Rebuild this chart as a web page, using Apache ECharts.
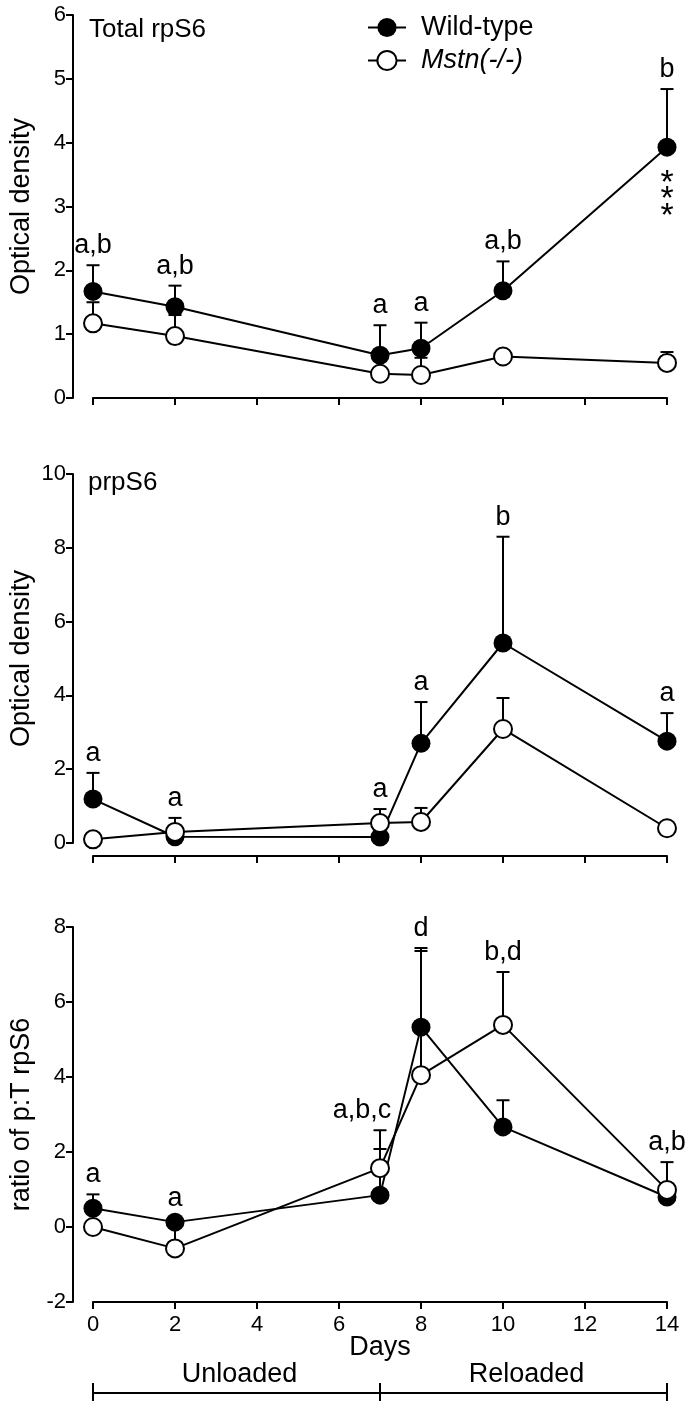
<!DOCTYPE html>
<html><head><meta charset="utf-8">
<script src="https://cdn.jsdelivr.net/npm/echarts@6/dist/echarts.min.js"></script>
<style>html,body{margin:0;padding:0;background:#fff}#c{width:694px;height:1408px}</style>
</head><body><div id="c"></div>
<script>
// ---- data ----
const days = [0, 2, 7, 8, 10, 14];
const xTicks = [0, 2, 4, 6, 8, 10, 12, 14];

const totalWT = [1.67, 1.43, 0.67, 0.78, 1.68, 3.93];
const totalWTErr = [0.41, 0.33, 0.47, 0.40, 0.46, 0.91];
const totalKO = [1.17, 0.97, 0.38, 0.36, 0.65, 0.55];
const totalKOErr = [0.33, 0.33, 0.20, 0.27, 0.08, 0.17];
const totalLabels = ['a,b', 'a,b', 'a', 'a', 'a,b', 'b'];

const phosWT = [1.19, 0.17, 0.16, 2.70, 5.42, 2.76];
const phosWTErr = [0.71, 0.10, 0.10, 1.12, 2.88, 0.76];
const phosKO = [0.10, 0.30, 0.54, 0.57, 3.09, 0.40];
const phosKOErr = [0.05, 0.38, 0.38, 0.38, 0.84, 0.14];
const phosLabels = ['a', 'a', 'a', 'a', 'b', 'a'];

const ratioWT = [0.50, 0.13, 0.85, 5.33, 2.67, 0.80];
const ratioWTErr = [0.37, 0.10, 1.23, 2.11, 0.71, 0.10];
const ratioKO = [0.00, -0.57, 1.57, 4.05, 5.39, 0.99];
const ratioKOErr = [0.10, 0.65, 1.01, 3.31, 1.41, 0.74];
const ratioLabels = ['a', 'a', 'a,b,c', 'd', 'b,d', 'a,b'];

const periods = [
  { name: 'Unloaded', start: 0, end: 7 },
  { name: 'Reloaded', start: 7, end: 14 }
];

const FONT = '"Liberation Sans", Arial, sans-serif';
const seriesWT = 'Wild-type', seriesKO = 'Mstn(-/-)';

// ---- layout ----
const grids = [
  { left: 93, width: 574, top: 15, height: 383, outerBoundsMode: 'none', containLabel: false },
  { left: 93, width: 574, top: 474, height: 369, outerBoundsMode: 'none', containLabel: false },
  { left: 93, width: 574, top: 927, height: 375, outerBoundsMode: 'none', containLabel: false }
];
const yRanges = [
  { min: 0, max: 6, interval: 1, name: 'Optical density' },
  { min: 0, max: 10, interval: 2, name: 'Optical density' },
  { min: -2, max: 8, interval: 2, name: 'ratio of p:T rpS6' }
];
const xOffsets = [0, 13, 0];
const labelDx = [[0, 0, 0, 0, 0, 0], [0, 0, 0, 0, 0, 0], [0, 0, -18, 0, 0, 0]];

const panels = [
  { wt: totalWT, wtE: totalWTErr, ko: totalKO, koE: totalKOErr, lab: totalLabels },
  { wt: phosWT, wtE: phosWTErr, ko: phosKO, koE: phosKOErr, lab: phosLabels },
  { wt: ratioWT, wtE: ratioWTErr, ko: ratioKO, koE: ratioKOErr, lab: ratioLabels }
];

function errRender(params, api) {
  const x = api.value(0), m = api.value(1), e = api.value(2);
  const p0 = api.coord([x, m]), p1 = api.coord([x, m + e]);
  const st = { stroke: '#000', lineWidth: 2 };
  return { type: 'group', children: [
    { type: 'line', shape: { x1: p0[0], y1: p0[1], x2: p1[0], y2: p1[1] }, style: st },
    { type: 'line', shape: { x1: p1[0] - 6.5, y1: p1[1], x2: p1[0] + 6.5, y2: p1[1] }, style: st }
  ]};
}

const xAxes = [], yAxes = [], series = [];
panels.forEach((p, i) => {
  xAxes.push({
    gridIndex: i, type: 'value', min: 0, max: 14, interval: 2, offset: xOffsets[i],
    axisLine: { show: true, onZero: false, lineStyle: { color: '#000', width: 2 } },
    axisTick: { show: true, length: 7, lineStyle: { color: '#000', width: 2 } },
    axisLabel: { show: i === 2, color: '#000', fontSize: 22, fontFamily: FONT, margin: 12 },
    splitLine: { show: false },
    name: i === 2 ? 'Days' : '', nameLocation: 'middle', nameGap: 32, nameMoveOverlap: false,
    nameTextStyle: { color: '#000', fontSize: 27, fontFamily: FONT }
  });
  yAxes.push({
    gridIndex: i, type: 'value', min: yRanges[i].min, max: yRanges[i].max, interval: yRanges[i].interval,
    offset: 20,
    axisLine: { show: true, onZero: false, lineStyle: { color: '#000', width: 2 } },
    axisTick: { show: true, length: 7, lineStyle: { color: '#000', width: 2 } },
    axisLabel: { color: '#000', fontSize: 22, fontFamily: FONT, margin: 7 },
    splitLine: { show: false },
    name: yRanges[i].name, nameLocation: 'middle', nameGap: 38, nameMoveOverlap: false,
    nameTextStyle: { color: '#000', fontSize: 27, fontFamily: FONT }
  });
  // error bars
  series.push({
    type: 'custom', xAxisIndex: i, yAxisIndex: i, z: 1, silent: true,
    renderItem: errRender, data: days.map((d, k) => [d, p.wt[k], p.wtE[k]])
  });
  series.push({
    type: 'custom', xAxisIndex: i, yAxisIndex: i, z: 1, silent: true,
    renderItem: errRender, data: days.map((d, k) => [d, p.ko[k], p.koE[k]])
  });
  series.push({
    name: seriesWT, type: 'line', xAxisIndex: i, yAxisIndex: i, z: 3, clip: false,
    data: days.map((d, k) => [d, p.wt[k]]),
    symbol: 'circle', symbolSize: 19,
    lineStyle: { color: '#000', width: 2 },
    itemStyle: { color: '#000', borderColor: '#000', borderWidth: 0 }
  });
  series.push({
    name: seriesKO, type: 'line', xAxisIndex: i, yAxisIndex: i, z: 4, clip: false,
    data: days.map((d, k) => [d, p.ko[k]]),
    symbol: 'circle', symbolSize: 18,
    lineStyle: { color: '#000', width: 2 },
    itemStyle: { color: '#fff', borderColor: '#000', borderWidth: 2 }
  });
  // significance letters
  series.push({
    type: 'custom', xAxisIndex: i, yAxisIndex: i, z: 5, silent: true,
    data: days.map((d, k) => [d, Math.max(p.wt[k] + p.wtE[k], p.ko[k] + p.koE[k])]),
    renderItem: function (params, api) {
      const pt = api.coord([api.value(0), api.value(1)]);
      const label = p.lab[params.dataIndex];
      return { type: 'text', x: pt[0] + labelDx[i][params.dataIndex], y: pt[1] - 6,
        style: { text: label, fill: '#000', font: '27px ' + FONT, textAlign: 'center', textVerticalAlign: 'bottom' } };
    }
  });
});

// *** under WT day 14 of total panel
series.push({
  type: 'custom', xAxisIndex: 0, yAxisIndex: 0, z: 5, silent: true,
  data: [[days[5], totalWT[5]]],
  renderItem: function (params, api) {
    const pt = api.coord([api.value(0), api.value(1)]);
    return { type: 'text', x: pt[0], y: pt[1] + 28,
      style: { text: '*\n*\n*', fill: '#000', font: '34px ' + FONT, lineHeight: 16.5, textAlign: 'center', textVerticalAlign: 'top' } };
  }
});

// Unloaded / Reloaded bracket under the bottom panel
series.push({
  type: 'custom', xAxisIndex: 2, yAxisIndex: 2, z: 5, silent: true,
  data: periods.map(p => [p.start, p.end]),
  renderItem: function (params, api) {
    const a = api.coord([api.value(0), yRanges[2].min]);
    const b = api.coord([api.value(1), yRanges[2].min]);
    const y = a[1] + 91;
    const st = { stroke: '#000', lineWidth: 2 };
    return { type: 'group', children: [
      { type: 'line', shape: { x1: a[0], y1: y, x2: b[0], y2: y }, style: st },
      { type: 'line', shape: { x1: a[0], y1: y - 10, x2: a[0], y2: y + 8 }, style: st },
      { type: 'line', shape: { x1: b[0], y1: y - 10, x2: b[0], y2: y + 8 }, style: st },
      { type: 'text', x: (a[0] + b[0]) / 2 + 3, y: y - 5,
        style: { text: periods[params.dataIndex].name, fill: '#000', font: '27px ' + FONT, textAlign: 'center', textVerticalAlign: 'bottom' } }
    ]};
  }
});

const option = {
  animation: false,
  backgroundColor: '#fff',
  title: [
    { text: 'Total rpS6', left: 84, top: 12, textStyle: { color: '#000', fontSize: 26, fontWeight: 'normal', fontFamily: FONT } },
    { text: 'prpS6', left: 83, top: 465, textStyle: { color: '#000', fontSize: 26, fontWeight: 'normal', fontFamily: FONT } }
  ],
  legend: {
    orient: 'vertical', left: 362, top: 9, itemWidth: 38, itemHeight: 24, itemGap: 6,
    data: [seriesWT, seriesKO],
    formatter: n => n === seriesKO ? '{it|' + n + '}' : n,
    textStyle: { color: '#000', fontSize: 27, fontFamily: FONT, padding: [0, 0, 0, 10],
      rich: { it: { fontStyle: 'italic', fontSize: 27, fontFamily: FONT, color: '#000' } } }
  },
  grid: grids,
  xAxis: xAxes,
  yAxis: yAxes,
  series: series
};
const chart = echarts.init(document.getElementById('c'), null, { renderer: 'canvas' });
chart.setOption(option);
</script></body></html>
